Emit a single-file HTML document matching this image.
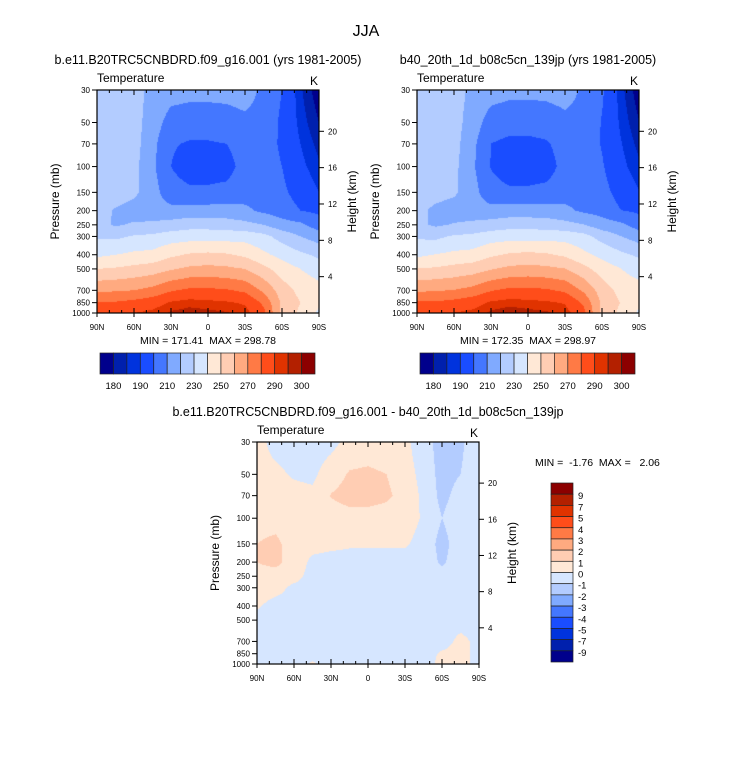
<!DOCTYPE html>
<html><head><meta charset="utf-8"><style>
body{margin:0;background:#fff;width:733px;height:758px;position:relative;overflow:hidden;font-family:"Liberation Sans",sans-serif}
canvas{position:absolute}
svg{position:absolute;left:0;top:0}
text{white-space:pre}
</style></head><body>
<canvas id="c1" width="222" height="223" style="left:97px;top:90px"></canvas>
<canvas id="c2" width="222" height="223" style="left:417px;top:90px"></canvas>
<canvas id="c3" width="222" height="222" style="left:257px;top:442px"></canvas>
<svg id="s" width="733" height="758"></svg>
<script>
const lats=[90,75,60,45,30,15,0,-15,-30,-45,-60,-75,-90];
const levs=[30,50,70,100,150,200,250,300,400,500,700,850,1000];
const tempA=[
[228,226,224,217,214,213,213,213,214,208,200,186,176],
[228,226,224,215,206,205,205,206,208,207,198,188,180],
[228,226,224,213,201,199,199,200,205,206,198,190,183],
[227,226,223,212,200,195,195,196,204,206,200,192,186],
[226,225,222,214,204,202,202,203,206,206,202,196,190],
[224,219,216,214,213,214,214,214,212,208,205,200,198],
[223,219,221,222,224,226,226,225,223,220,214,212,205],
[229,228,231,232,235,236,236,236,236,233,226,220,215],
[238,240,242,243,248,251,252,251,248,242,237,232,228],
[250,251,253,255,259,262,263,262,260,253,245,240,235],
[268,269,270,273,279,282,282,281,278,268,255,247,244],
[281,281,283,286,291,293,292,291,289,278,258,250,242],
[284,286,290,292,296,297.5,296.5,295.5,293,283,257,248,238]];
const tempDiff=[
[0.3,-0.3,-0.5,-0.5,-0.3,0.3,0.4,0.3,0.2,-0.5,-1.5,-1.2,-0.3],
[0.3,0.2,-0.1,-0.2,0.5,1.1,1.2,1.0,0.4,-0.3,-1.4,-1.0,-0.3],
[0.4,0.4,0.3,0.2,1.05,1.4,1.4,1.2,0.6,-0.2,-1.3,-0.6,-0.2],
[0.5,0.5,0.3,0.3,0.5,0.6,0.6,0.5,0.4,-0.1,-1.0,-0.3,-0.2],
[1.0,1.3,0.4,0.3,0.2,0.1,0.1,0.1,0.1,-0.3,-1.4,-0.4,-0.3],
[1.0,1.3,0.5,-0.2,-0.3,-0.3,-0.3,-0.3,-0.3,-0.3,-1.2,-0.3,-0.3],
[0.6,0.5,0.3,-0.3,-0.3,-0.3,-0.3,-0.3,-0.3,-0.3,-0.6,-0.3,-0.3],
[0.4,0.3,-0.2,-0.3,-0.3,-0.3,-0.3,-0.3,-0.3,-0.3,-0.3,-0.3,-0.3],
[0.1,-0.3,-0.3,-0.3,-0.3,-0.3,-0.3,-0.3,-0.3,-0.3,-0.3,-0.3,-0.3],
[-0.3,-0.3,-0.3,-0.3,-0.3,-0.3,-0.3,-0.3,-0.3,-0.3,-0.3,-0.3,-0.3],
[-0.3,-0.3,-0.3,-0.3,-0.3,-0.3,-0.3,-0.3,-0.3,-0.3,-0.3,0.2,-0.2],
[-0.3,-0.3,-0.3,-0.3,-0.3,-0.3,-0.3,-0.3,-0.3,-0.3,0.1,0.2,-0.2],
[-0.3,-0.3,-0.3,0.1,-0.3,-0.3,-0.3,-0.3,-0.3,-0.3,0.2,0.2,-0.2]];
const tempLevels=[180,185,190,200,210,220,230,240,250,260,270,280,290,295,300];
const diffLevels=[-9,-7,-5,-4,-3,-2,-1,0,1,2,3,4,5,7,9];
const tempTickLabels=["180","190","210","230","250","270","290","300"];
const colors=["#00008c","#0020ad","#0033dd","#1a4dff","#4477ff","#80aaff","#b3ccff","#d6e6ff","#ffe8d6","#ffcdb3","#ffaa80","#ff7a45","#ff4d1a","#e03300","#b32000","#8c0000"];
const presTicks=[30,50,70,100,150,200,250,300,400,500,700,850,1000];
const htTicks=[4,8,12,16,20];
const latTicks=[90,60,30,0,-30,-60,-90];
const latLabels=["90N","60N","30N","0","30S","60S","90S"];

const tempB=tempA.map((r,i)=>r.map((v,j)=>v-tempDiff[i][j]));
const lp0=Math.log(30),lp1=Math.log(1000);
function yOf(p,top,h){return top+(Math.log(p)-lp0)/(lp1-lp0)*h;}
function xOf(lat,left,w){return left+(90-lat)/180*w;}
function hexRGB(h){return [parseInt(h.substr(1,2),16),parseInt(h.substr(3,2),16),parseInt(h.substr(5,2),16)];}
const rgb=colors.map(hexRGB);
const llev=levs.map(Math.log);
function sample(field,lat,lp){
  let fi=(90-lat)/15; let i0=Math.min(11,Math.floor(fi)); let tx=fi-i0;
  let j0=0;
  while(j0<11&&lp>llev[j0+1])j0++;
  let ty=(lp-llev[j0])/(llev[j0+1]-llev[j0]); ty=Math.max(0,Math.min(1,ty));
  const a=field[j0][i0],b=field[j0][i0+1],c=field[j0+1][i0],d=field[j0+1][i0+1];
  return (a*(1-tx)+b*tx)*(1-ty)+(c*(1-tx)+d*tx)*ty;
}
function drawField(id,field,levels){
  const cv=document.getElementById(id),ctx=cv.getContext('2d');
  const W=cv.width,H=cv.height,img=ctx.createImageData(W,H);
  for(let y=0;y<H;y++){const lp=lp0+(y+0.5)/H*(lp1-lp0);
    for(let x=0;x<W;x++){const lat=90-(x+0.5)/W*180;
      const v=sample(field,lat,lp);let k=0;while(k<levels.length&&v>=levels[k])k++;
      const c=rgb[k],o=(y*W+x)*4;img.data[o]=c[0];img.data[o+1]=c[1];img.data[o+2]=c[2];img.data[o+3]=255;}}
  ctx.putImageData(img,0,0);
}
drawField('c1',tempA,tempLevels);
drawField('c2',tempB,tempLevels);
drawField('c3',tempDiff,diffLevels);

const S=document.getElementById('s'),NS='http://www.w3.org/2000/svg';
function el(tag,attrs,txt){const e=document.createElementNS(NS,tag);for(const k in attrs)e.setAttribute(k,attrs[k]);if(txt!==undefined)e.textContent=txt;S.appendChild(e);return e;}
function txt(x,y,s,size,anchor,name,rot){const e=el('text',{x:x,y:y,'font-size':size,'text-anchor':anchor||'middle','font-family':'Liberation Sans, sans-serif',fill:'#000'},s);
  if(rot)e.setAttribute('transform','rotate(-90 '+x+' '+y+')');
  
  return e;}
function line(x1,y1,x2,y2,name){const e=el('line',{x1:x1,y1:y1,x2:x2,y2:y2,stroke:'#000','stroke-width':1});
  
  }
function axes(L,T,W,H,title,minmax,pfx){
  const r=el('rect',{x:L,y:T,width:W,height:H,fill:'none',stroke:'#000','stroke-width':1.2});
  
  
  txt(L+W/2,T-26,title,12.5,'middle',pfx+'-title');
  txt(L,T-8,'Temperature',12,'start',pfx+'-variable-label');
  txt(L+W-1,T-5,'K',12,'end',pfx+'-units-label');
  presTicks.forEach(p=>{const y=yOf(p,T,H);line(L-5,y,L,y,pfx+'-pressure-tick');txt(L-7,y+3,String(p),8,'end',pfx+'-pressure-tick-label');});
  htTicks.forEach(h=>{const p=1000*Math.exp(-h/7);const y=yOf(p,T,H);line(L+W,y,L+W+5,y,pfx+'-height-tick');txt(L+W+9,y+3,String(h),8,'start',pfx+'-height-tick-label');});
  for(let lat=90;lat>=-90;lat-=10){const x=xOf(lat,L,W);const len=(lat%30===0)?5:3;
    line(x,T+H,x,T+H-len,pfx+'-lat-tick');line(x,T,x,T+len,pfx+'-lat-tick-top');}
  latTicks.forEach((lat,i)=>{const x=xOf(lat,L,W);line(x,T+H,x,T+H+4,pfx+'-lat-tick-out');txt(x,T+H+17,latLabels[i],8,'middle',pfx+'-lat-tick-label');});
  txt(L-38,T+H/2,'Pressure (mb)',12,'middle',pfx+'-y-axis-title',true);
  txt(L+W+37,T+H/2,'Height (km)',12,'middle',pfx+'-height-axis-title',true);
  if(minmax)txt(L+W/2,T+H+31,minmax,10.5,'middle',pfx+'-min-max');
}
txt(366,36,'JJA',16,'middle','main-title');
axes(97,90,222,223,'b.e11.B20TRC5CNBDRD.f09_g16.001 (yrs 1981-2005)','MIN = 171.41  MAX = 298.78','left');
axes(417,90,222,223,'b40_20th_1d_b08c5cn_139jp (yrs 1981-2005)','MIN = 172.35  MAX = 298.97','right');
axes(257,442,222,222,'b.e11.B20TRC5CNBDRD.f09_g16.001 - b40_20th_1d_b08c5cn_139jp',null,'diff');
txt(535,466,'MIN =  -1.76  MAX =   2.06',10.5,'start','diff-min-max');

function hbar(L,T,W,H,pfx){const bw=W/16;
  colors.forEach((c,i)=>{const r=el('rect',{x:L+i*bw,y:T,width:bw,height:H,fill:c,stroke:'#222','stroke-width':0.7});
    
    });
  tempTickLabels.forEach((s,i)=>{txt(L+(2*i+1)*bw,T+H+15,s,9.5,'middle',pfx+'-colorbar-label');});
}
hbar(100,353,215,21,'left');
hbar(420,353,215,21,'right');
(function(){const L=551,T=483,W=22,H=179,bh=H/16;
  for(let i=0;i<16;i++){const r=el('rect',{x:L,y:T+i*bh,width:W,height:bh,fill:colors[15-i],stroke:'#222','stroke-width':0.7});
    
    }
  for(let i=0;i<15;i++){txt(L+W+5,T+(i+1)*bh+5,String(diffLevels[14-i]),9.5,'start','diff-colorbar-label');}
})();
</script>
</body></html>
